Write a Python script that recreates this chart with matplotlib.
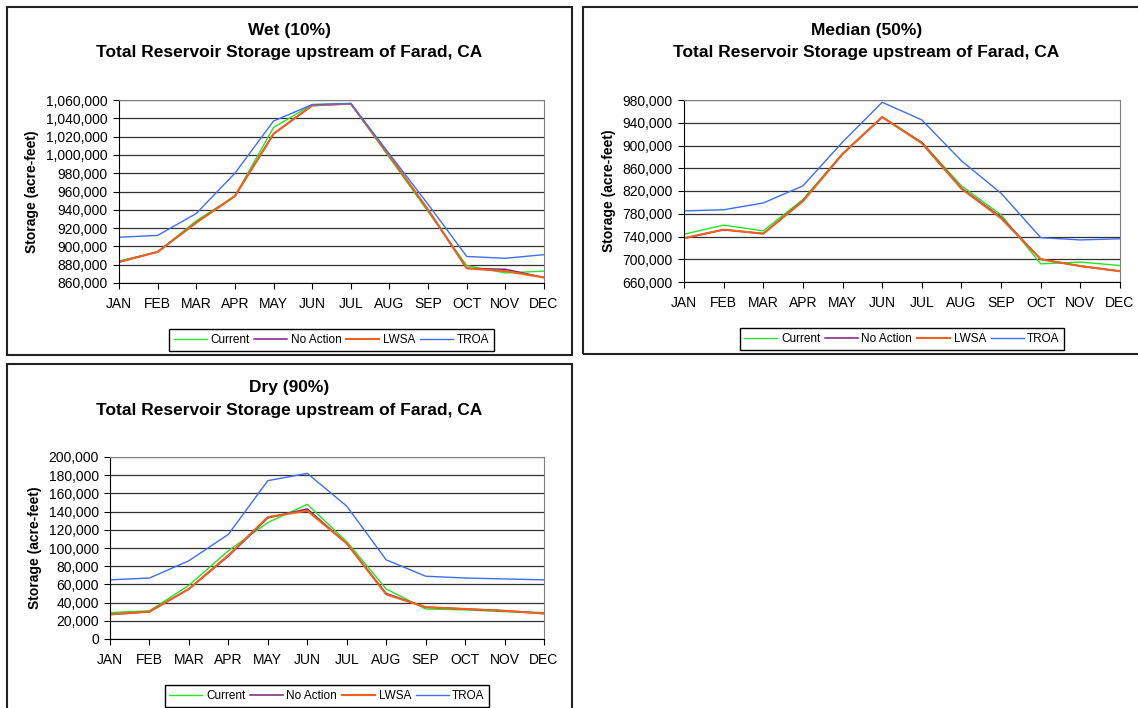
import numpy as np
import matplotlib.pyplot as plt
from matplotlib.patches import Rectangle
from matplotlib.ticker import FuncFormatter

plt.rcParams['font.family'] = ['Liberation Sans', 'DejaVu Sans']

MONTHS = ['JAN', 'FEB', 'MAR', 'APR', 'MAY', 'JUN',
          'JUL', 'AUG', 'SEP', 'OCT', 'NOV', 'DEC']
SERIES = ['Current', 'No Action', 'LWSA', 'TROA']

# Storage values in thousands of acre-feet
wet_current = [884, 894, 928, 955, 1030, 1055, 1056, 997, 938, 879, 871, 873]
wet_noaction = [883, 894, 926, 955, 1023, 1054, 1056, 999, 940, 876, 875, 866]
wet_lwsa = [883, 894, 926, 955, 1023, 1054, 1056, 999, 940, 876, 873, 866]
wet_troa = [910, 912, 936, 980, 1037, 1055, 1056, 1001, 946, 889, 887, 891]

med_current = [744, 760, 750, 805, 886, 950, 906, 829, 778, 692, 695, 689]
med_noaction = [737, 752, 745, 803, 885, 950, 905, 825, 774, 700, 688, 679]
med_lwsa = [737, 752, 745, 802, 885, 950, 904, 824, 772, 700, 688, 679]
med_troa = [785, 787, 799, 829, 906, 976, 945, 873, 816, 738, 734, 736]

dry_current = [29, 31, 59, 97, 128, 148, 107, 55, 33, 32, 30, 29]
dry_noaction = [27, 30, 55, 91, 133, 143, 105, 50, 35, 33, 31, 28]
dry_lwsa = [27, 30, 55, 92, 134, 141, 105, 49, 35, 33, 31, 28]
dry_troa = [65, 67, 86, 115, 174, 182, 146, 87, 69, 67, 66, 65]

COLORS = ['#22e622', '#7a1f7a', '#f0601e', '#3d6ef5']
WIDTHS = [1.0, 1.1, 1.5, 1.0]

W, H = 1138, 708
fig = plt.figure(figsize=(W / 100, H / 100), dpi=100)


def px_box(x0, y0, x1, y1):
    return [x0 / W, 1 - y1 / H, (x1 - x0) / W, (y1 - y0) / H]


def panel(frame, plot, title, data, ylim, step):
    fx0, fy0, fx1, fy1 = frame
    fig.patches.append(Rectangle((fx0 / W, 1 - fy1 / H), (fx1 - fx0) / W,
                                 (fy1 - fy0) / H, transform=fig.transFigure,
                                 fill=False, edgecolor='#222222', lw=1.5))
    ax = fig.add_axes(px_box(*plot))
    x = np.arange(12)
    handles = []
    for vals, c, lw, name in zip(data, COLORS, WIDTHS, SERIES):
        h, = ax.plot(x, np.array(vals) * 1000, color=c, lw=lw, label=name)
        handles.append(h)
    ax.set_xlim(0, 11)
    ax.set_ylim(*ylim)
    ax.set_yticks(np.arange(ylim[0], ylim[1] + 1, step))
    ax.yaxis.set_major_formatter(FuncFormatter(lambda v, p: f'{v:,.0f}'))
    ax.set_xticks(x)
    ax.set_xticklabels(MONTHS)
    ax.tick_params(axis='x', direction='out', length=4, pad=6, labelsize=10)
    ax.tick_params(axis='y', direction='out', length=4, pad=4, labelsize=10)
    ax.grid(axis='y', color='#333333', lw=0.9)
    ax.set_axisbelow(True)
    for s in ['top', 'right']:
        ax.spines[s].set_color('#808080')
    for s in ['left', 'bottom']:
        ax.spines[s].set_color('black')
    ax.set_ylabel('Storage (acre-feet)', fontsize=10, fontweight='bold',
                  labelpad=5)
    cx = (fx0 + fx1) / 2
    fig.text(cx / W, 1 - (fy0 + 24) / H, title, ha='center', va='center',
             fontsize=12.5, fontweight='bold')
    fig.text(cx / W, 1 - (fy0 + 46) / H,
             'Total Reservoir Storage upstream of Farad, CA', ha='center',
             va='center', fontsize=12.5, fontweight='bold')
    lx = (plot[0] + plot[2]) / 2
    ly = plot[3] + 57
    leg = fig.legend(handles=handles, loc='center', ncol=4,
                     bbox_to_anchor=(lx / W, 1 - ly / H), fontsize=8.5,
                     frameon=True, fancybox=False, edgecolor='black',
                     framealpha=1, handlelength=2.8, handletextpad=0.3,
                     columnspacing=0.4, borderpad=0.4)
    leg.get_frame().set_linewidth(1.0)
    return ax


panel((7, 7, 572, 355), (119, 100, 544, 283), 'Wet (10%)',
      [wet_current, wet_noaction, wet_lwsa, wet_troa], (860000, 1060000), 20000)
panel((583, 7, 1150, 354), (684, 100, 1120, 282), 'Median (50%)',
      [med_current, med_noaction, med_lwsa, med_troa], (660000, 980000), 40000)
panel((7, 364, 572, 720), (110, 457, 544, 639), 'Dry (90%)',
      [dry_current, dry_noaction, dry_lwsa, dry_troa], (0, 200000), 20000)

fig.savefig('out.png', dpi=100, facecolor='white')
